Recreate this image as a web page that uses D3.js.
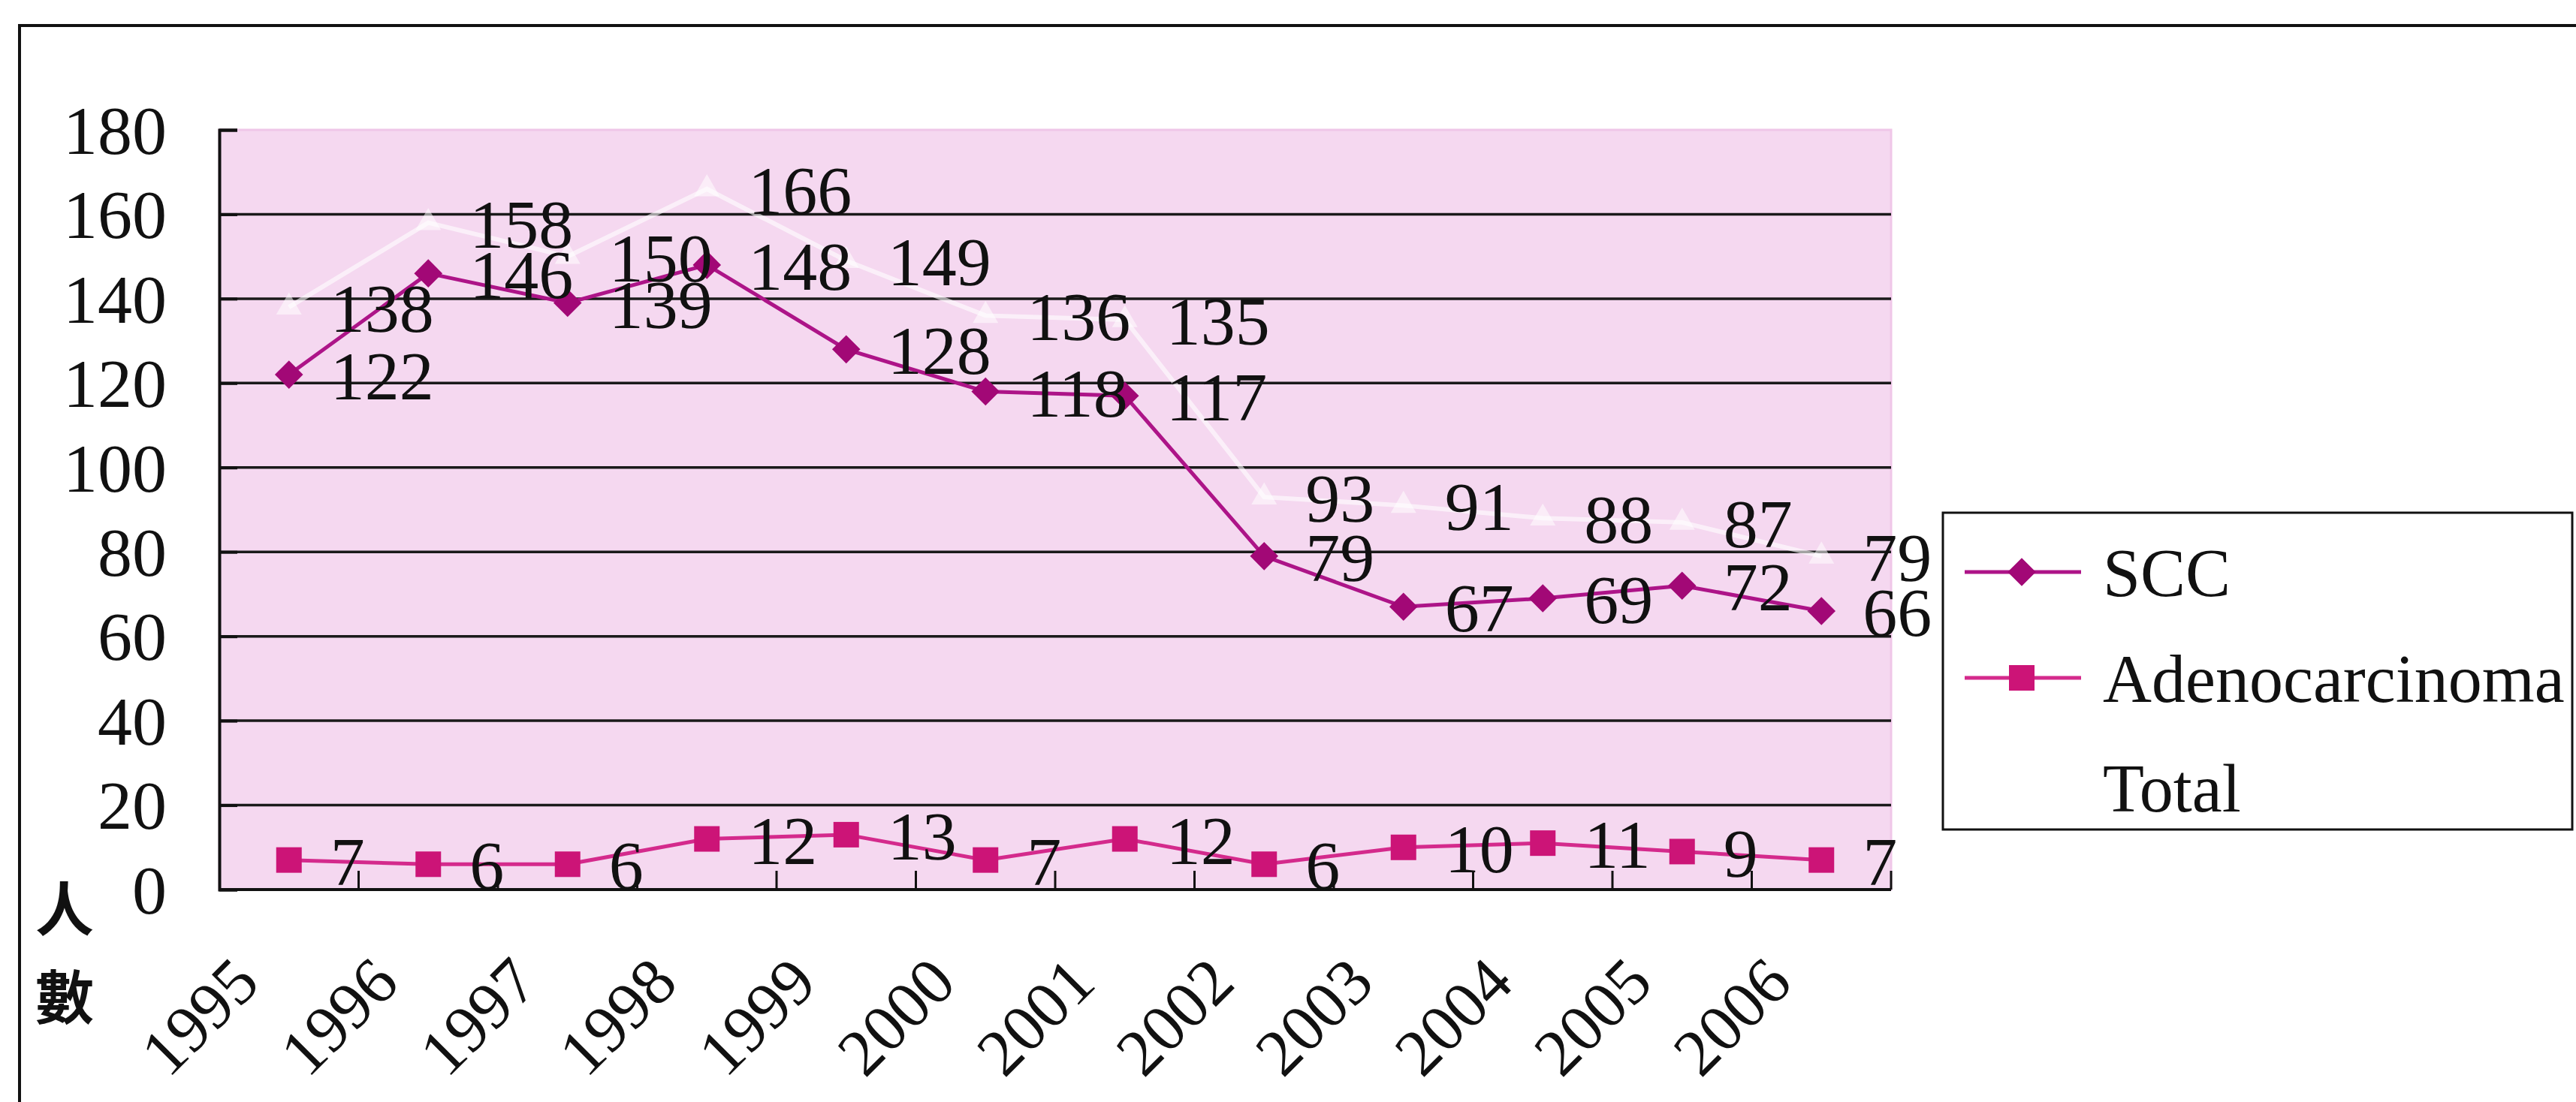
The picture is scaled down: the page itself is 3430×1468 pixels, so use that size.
<!DOCTYPE html>
<html>
<head>
<meta charset="utf-8">
<script src="https://cdn.jsdelivr.net/npm/d3@7"></script>
<style>
  html, body { margin: 0; padding: 0; background: #fff; }
  svg text { font-family: "Liberation Serif", "Times New Roman", serif; fill: #111; }
</style>
</head>
<body>
<svg id="chart" width="3430" height="1468"></svg>
<script>
const years = ["1995", "1996", "1997", "1998", "1999", "2000", "2001", "2002", "2003", "2004", "2005", "2006"];
const scc = [122, 146, 139, 148, 128, 118, 117, 79, 67, 69, 72, 66];
const adeno = [7, 6, 6, 12, 13, 7, 12, 6, 10, 11, 9, 7];
const total = [138, 158, 150, 166, 149, 136, 135, 93, 91, 88, 87, 79];
const yTicks = [0, 20, 40, 60, 80, 100, 120, 140, 160, 180];
const seriesNames = ["SCC", "Adenocarcinoma", "Total"];

const plot = {left: 292, right: 2518, top: 173, bottom: 1185};
const svg = d3.select("#chart");

const x = d3.scaleBand().domain(years).range([plot.left, plot.right]).padding(0);
const y = d3.scaleLinear().domain([0, 180]).range([plot.bottom, plot.top]);
const cx = d => x(d) + x.bandwidth() / 2;

// page frame (scanned figure border)
svg.append("path")
    .attr("d", `M26,1468 L26,34 L3430,34`)
    .attr("fill", "none")
    .attr("stroke", "#111")
    .attr("stroke-width", 4);

// plot background
svg.append("rect")
    .attr("x", plot.left)
    .attr("y", plot.top)
    .attr("width", plot.right - plot.left)
    .attr("height", plot.bottom - plot.top)
    .attr("fill", "#f5d8f0")
    .attr("stroke", "#efc6e8")
    .attr("stroke-width", 3);

// gridlines
svg.append("g")
    .selectAll("line")
    .data(yTicks.filter(t => t > 0 && t < 180))
    .join("line")
    .attr("x1", plot.left)
    .attr("x2", plot.right)
    .attr("y1", d => y(d))
    .attr("y2", d => y(d))
    .attr("stroke", "#1a1a1a")
    .attr("stroke-width", 3.5);

// y axis, ticks pointing inward
const yAxis = svg.append("g")
    .attr("transform", `translate(${plot.left},0)`)
    .call(d3.axisLeft(y).tickValues(yTicks).tickSize(-24).tickPadding(70));
yAxis.select(".domain").attr("stroke", "#111").attr("stroke-width", 4);
yAxis.selectAll(".tick line").attr("stroke", "#111").attr("stroke-width", 4);
yAxis.selectAll(".tick text")
    .attr("font-size", 92)
    .attr("dy", "0.34em")
    .style("font-family", "Liberation Serif");

// x axis line and inward ticks at category boundaries
svg.append("line")
    .attr("x1", plot.left)
    .attr("x2", plot.right)
    .attr("y1", plot.bottom)
    .attr("y2", plot.bottom)
    .attr("stroke", "#111")
    .attr("stroke-width", 4);
svg.append("g")
    .selectAll("line")
    .data(years)
    .join("line")
    .attr("x1", d => x(d) + x.bandwidth())
    .attr("x2", d => x(d) + x.bandwidth())
    .attr("y1", plot.bottom)
    .attr("y2", plot.bottom - 25)
    .attr("stroke", "#111")
    .attr("stroke-width", 3);

// rotated year labels
svg.append("g")
    .selectAll("text")
    .data(years)
    .join("text")
    .attr("transform", d => `translate(${cx(d) - 36},${plot.bottom + 128}) rotate(-45)`)
    .attr("text-anchor", "end")
    .attr("font-size", 88)
    .text(d => d);

// axis title, stacked characters
svg.append("g")
    .selectAll("text")
    .data(["人", "數"])
    .join("text")
    .attr("x", 86)
    .attr("y", (d, i) => 1240 + i * 118)
    .attr("text-anchor", "middle")
    .attr("font-size", 78)
    .style("font-family", "'Noto Sans CJK TC', 'Noto Sans CJK SC', serif")
    .style("font-weight", 700)
    .text(d => d);

const line = d3.line().x(d => cx(d.year)).y(d => y(d.value));
const rows = vals => years.map((year, i) => ({year, value: vals[i]}));

// Total series: faint white line on pink
const totalG = svg.append("g");
totalG.append("path")
    .datum(rows(total))
    .attr("d", line)
    .attr("fill", "none")
    .attr("stroke", "#ffffff")
    .attr("stroke-opacity", 0.6)
    .attr("stroke-width", 6);
totalG.selectAll("path.mk")
    .data(rows(total))
    .join("path")
    .attr("class", "mk")
    .attr("transform", d => `translate(${cx(d.year)},${y(d.value)})`)
    .attr("d", d3.symbol(d3.symbolTriangle, 500))
    .attr("fill", "#ffffff")
    .attr("fill-opacity", 0.55);

// SCC
const sccG = svg.append("g");
sccG.append("path")
    .datum(rows(scc))
    .attr("d", line)
    .attr("fill", "none")
    .attr("stroke", "#ad1488")
    .attr("stroke-width", 5);
sccG.selectAll("path.mk")
    .data(rows(scc))
    .join("path")
    .attr("class", "mk")
    .attr("transform", d => `translate(${cx(d.year)},${y(d.value)})`)
    .attr("d", d3.symbol(d3.symbolDiamond2, 900))
    .attr("fill", "#a20876");

// Adenocarcinoma
const adG = svg.append("g");
adG.append("path")
    .datum(rows(adeno))
    .attr("d", line)
    .attr("fill", "none")
    .attr("stroke", "#d42a8c")
    .attr("stroke-width", 5);
adG.selectAll("rect")
    .data(rows(adeno))
    .join("rect")
    .attr("x", d => cx(d.year) - 17)
    .attr("y", d => y(d.value) - 17)
    .attr("width", 34)
    .attr("height", 34)
    .attr("fill", "#cc1477");

// data labels to the right of each point
[total, scc, adeno].forEach(vals => {
    svg.append("g")
        .selectAll("text")
        .data(rows(vals))
        .join("text")
        .attr("x", d => cx(d.year) + 55)
        .attr("y", d => y(d.value))
        .attr("dy", "0.36em")
        .attr("font-size", 92)
        .text(d => d.value);
});

// legend
const legend = svg.append("g");
legend.append("rect")
    .attr("x", 2587)
    .attr("y", 683)
    .attr("width", 838)
    .attr("height", 422)
    .attr("fill", "#fff")
    .attr("stroke", "#111")
    .attr("stroke-width", 3);
const legendY = [762, 903, 1049];
const legendColors = ["#ad1488", "#d42a8c", "#ffffff"];
seriesNames.forEach((name, i) => {
    const g = legend.append("g").attr("transform", `translate(0,${legendY[i]})`);
    g.append("line")
        .attr("x1", 2616).attr("x2", 2771)
        .attr("stroke", legendColors[i])
        .attr("stroke-width", 5);
    if (i === 0) {
        g.append("path")
            .attr("transform", "translate(2692,0)")
            .attr("d", d3.symbol(d3.symbolDiamond2, 900))
            .attr("fill", "#a20876");
    } else if (i === 1) {
        g.append("rect")
            .attr("x", 2675).attr("y", -17)
            .attr("width", 34).attr("height", 34)
            .attr("fill", "#cc1477");
    }
    g.append("text")
        .attr("x", 2800)
        .attr("dy", "0.36em")
        .attr("font-size", 90)
        .text(name);
});
</script>
</body>
</html>
